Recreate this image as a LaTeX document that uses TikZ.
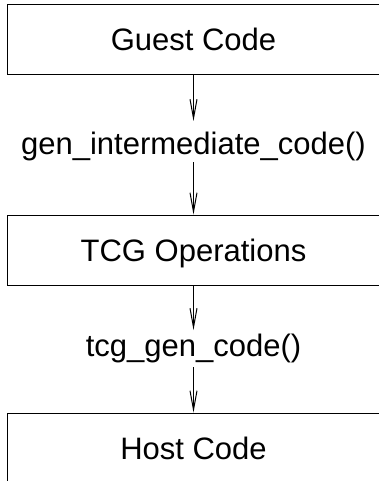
\documentclass[tikz,border=0pt]{standalone}
\usepackage{fontspec}
\setmainfont{Liberation Sans}
\usetikzlibrary{arrows.meta}
\begin{document}
\begin{tikzpicture}[x=1pt,y=-1pt,
  box/.style={draw,line width=1pt,rectangle,minimum width=373pt,minimum height=70pt,inner sep=0pt,
    font=\fontsize{31}{37}\selectfont,text height=22pt,text depth=0pt},
  lab/.style={inner sep=0pt,font=\fontsize{31}{37}\selectfont},
  flow/.style={line width=1pt,-{Straight Barb[length=19pt,width=7pt,line width=1pt]}}]
\useasboundingbox (0,0) rectangle (379,481);
\clip (0,0) rectangle (379,481);
\node[box] (guest) at (193.5,40) {Guest Code};
\node[box] (tcg) at (193.5,250) {TCG Operations};
\node[box] (host) at (193.5,448) {Host Code};
\node[lab,anchor=north,text height=33pt,text depth=8pt] (gen) at (193.5,121) {gen\_intermediate\_code()};
\node[lab,anchor=north,text height=26pt,text depth=10.7pt] (tgc) at (193.5,330) {tcg\_gen\_code()};
\draw[flow] (guest.south) -- (gen.north);
\draw[flow] (gen.south) -- (tcg.north);
\draw[flow] (tcg.south) -- (tgc.north);
\draw[flow] (tgc.south) -- (host.north);
\end{tikzpicture}
\end{document}
